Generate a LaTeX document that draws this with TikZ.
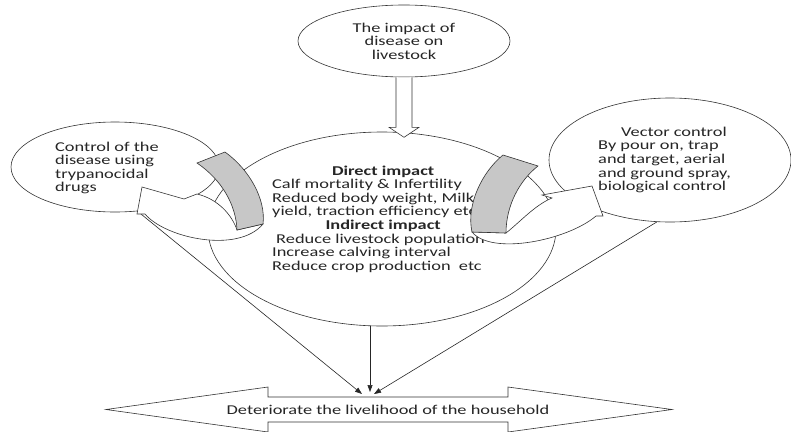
\documentclass[tikz,border=0pt]{standalone}
\usepackage{fontspec}
\setmainfont{Carlito}[FakeStretch=1.36]
\usetikzlibrary{shapes.geometric,arrows.meta}

\begin{document}
\begin{tikzpicture}[
        x=1pt, y=-1pt,
        bubble/.style={draw=black!80, fill=white, ellipse, inner sep=0pt, line width=0.6pt},
        words/.style={font=\fontsize{13.5}{13.6}\selectfont, text=black!85, inner sep=0pt},
        hollow/.style={draw=black!80, fill=white, line width=0.6pt},
        ribbon/.style={draw=black!80, fill=black!22, line width=0.6pt},
        link/.style={draw=black!85, line width=0.6pt, -{Triangle[length=7pt, width=5pt]}}
    ]
    \useasboundingbox (0,0) rectangle (791,431);

    \node[bubble, minimum width=348pt, minimum height=194pt] (centre) at (382,229) {};
    \node[bubble, minimum width=208pt, minimum height=90pt] (control) at (115,167) {};
    \node[bubble, minimum width=242pt, minimum height=124pt] (vector) at (670,160) {};
    \node[bubble, words, align=center, minimum width=212pt, minimum height=72pt] (impact) at (404,41) {The impact of\\disease on\\livestock};

    \node[words, align=left, anchor=west] (controltext) at (55,168) {Control of the\\disease using\\trypanocidal\\drugs};
    \node[words, align=left, anchor=west] (vectortext) at (598,160) {\hspace*{23pt}Vector control\\By pour on, trap\\and target, aerial\\and ground spray,\\biological control};
    \node[words, align=left, anchor=west] (impacts) at (272,219) {\makebox[222pt]{\bfseries Direct impact}\\Calf mortality \& Infertility\\Reduced body weight, Milk\\yield, traction efficiency etc\\\makebox[222pt]{\bfseries Indirect impact}\\\hspace*{4pt}Reduce livestock population\\Increase calving interval\\Reduce crop production~ etc};

    \draw[hollow] ([xshift=-8pt]impact.south) -- ++(0,50) -- ++(-7,0) -- ++(15,10) -- ++(15,-10) -- ++(-7,0) -- ([xshift=8pt]impact.south);

    \coordinate (meetL) at (362,394);
    \coordinate (meetM) at (370,392);
    \coordinate (meetR) at (374,394);
    \draw[link] (control.-63) -- (meetL);
    \draw[link] (centre.south -| meetM) -- (meetM);
    \draw[link] (vector.-102) -- (meetR);

    \draw[hollow] (106,409.5) -- (268,387) -- (268,397) -- (508,397) -- (508,387) -- (672,409.5) -- (508,432) -- (508,422) -- (268,422) -- (268,432) -- cycle;
    \node[words] (livelihood) at (388,409.5) {Deteriorate the livelihood of the household};

    % twisted arrow towards the drugs
    \draw[hollow] (237,230) .. controls (232,215) and (218,199) .. (197,194) -- (184,199) -- (142,187) -- (137,214) -- (145,214) .. controls (165,238) and (238,254) .. (263,224) -- cycle;
    \draw[ribbon] (197,163) -- (225,152) .. controls (250,170) and (266,200) .. (263,224) -- (237,230) .. controls (236,205) and (222,180) .. (197,163) -- cycle;
    % twisted arrow towards vector control
    \draw[hollow] (506,233) .. controls (520,222) and (535,205) .. (552,198) -- (542,195) -- (592,186) -- (603,216) -- (596,216) .. controls (568,240) and (492,256) .. (472,232) -- cycle;
    \draw[ribbon] (503,155) -- (538,166) .. controls (520,180) and (506,205) .. (506,233) -- (472,232) .. controls (466,205) and (482,172) .. (503,155) -- cycle;
\end{tikzpicture}
\end{document}
